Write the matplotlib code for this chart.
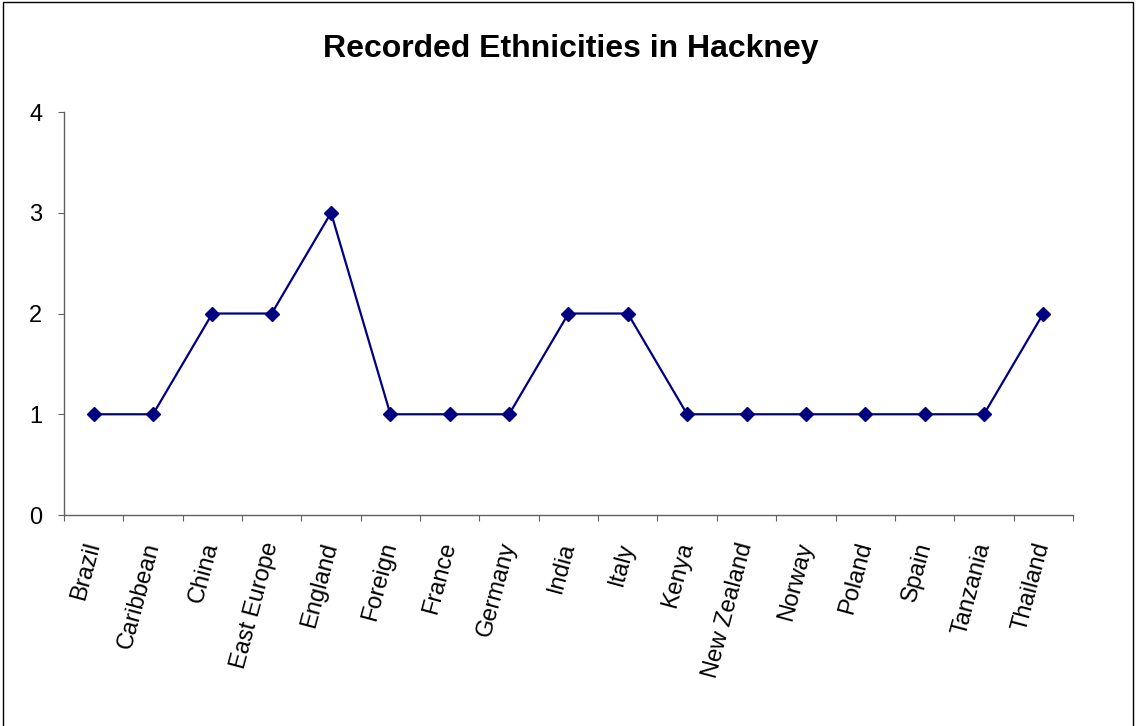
import numpy as np
import matplotlib.pyplot as plt
from matplotlib.patches import Rectangle

# Data
categories = ['Brazil', 'Caribbean', 'China', 'East Europe', 'England', 'Foreign',
              'France', 'Germany', 'India', 'Italy', 'Kenya', 'New Zealand',
              'Norway', 'Poland', 'Spain', 'Tanzania', 'Thailand']
counts = [1, 1, 2, 2, 3, 1, 1, 1, 2, 2, 1, 1, 1, 1, 1, 1, 2]

plt.rcParams['font.family'] = ['Liberation Sans', 'DejaVu Sans']

fig = plt.figure(figsize=(11.36, 7.26), dpi=100)
ax = fig.add_axes([0.0563, 0.2906, 0.8882, 0.5551])

x = np.arange(len(categories))
ax.plot(x, counts, color='#000080', linewidth=1.6, marker='D', markersize=7,
        markerfacecolor='#000080', markeredgecolor='#000080')

ax.set_xlim(-0.5, len(categories) - 0.5)
ax.set_ylim(0, 4)
ax.set_yticks([0, 1, 2, 3, 4])

# tick marks between categories, labels at category centres
ax.set_xticks(np.arange(-0.5, len(categories), 1.0))
ax.set_xticklabels([])
ax.set_xticks(x, minor=True)
ax.set_xticklabels(categories, minor=True, rotation=75, ha='right', va='center',
                   rotation_mode='anchor', fontsize=17)
ax.tick_params(axis='x', which='minor', length=0, pad=20)
ax.tick_params(axis='x', which='major', length=4.5, direction='out', color='#606060')
ax.tick_params(axis='y', length=4.5, direction='out', color='#606060', labelsize=17, pad=11)

for s in ['top', 'right']:
    ax.spines[s].set_visible(False)
for s in ['left', 'bottom']:
    ax.spines[s].set_color('#606060')
    ax.spines[s].set_linewidth(1.0)

fig.text(0.502, 0.932, 'Recorded Ethnicities in Hackney', ha='center', va='center',
         fontsize=23, fontweight='bold')

# chart frame
fig.patches.append(Rectangle((0.003, -0.1), 0.994, 1.097, transform=fig.transFigure,
                             fill=False, edgecolor='black', linewidth=1.0))

fig.savefig('out.png', dpi=100)
